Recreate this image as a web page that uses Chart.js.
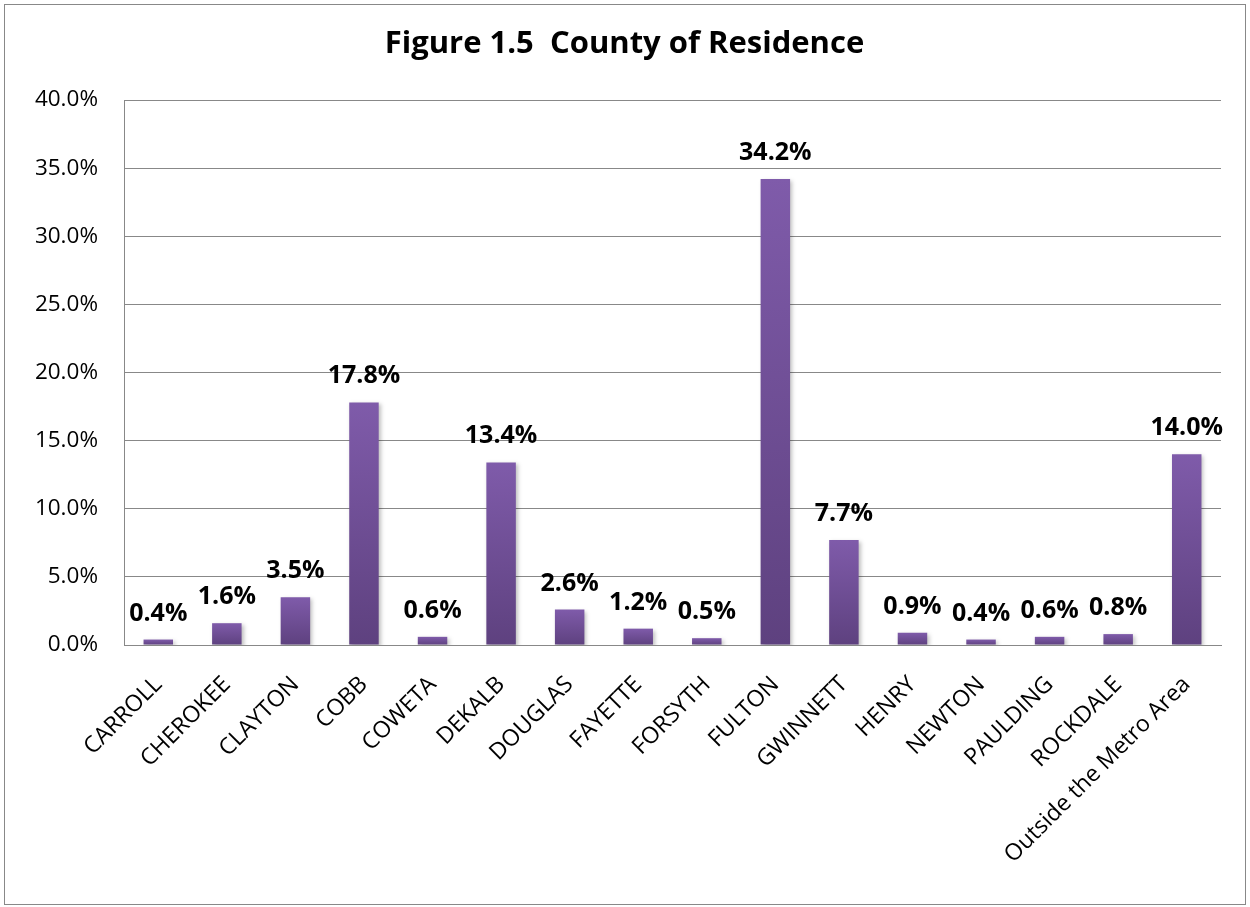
<!DOCTYPE html>
<html>
<head>
<meta charset="utf-8">
<script src="https://cdn.jsdelivr.net/npm/chart.js@4"></script>
<style>
  body { margin: 0; background: #fff; }
  #wrap { width: 1250px; height: 907px; }
</style>
</head>
<body>
<div id="wrap"><canvas id="countyChart" width="1250" height="907"></canvas></div>
<script>
// data
const counties = ['CARROLL', 'CHEROKEE', 'CLAYTON', 'COBB', 'COWETA', 'DEKALB', 'DOUGLAS', 'FAYETTE',
  'FORSYTH', 'FULTON', 'GWINNETT', 'HENRY', 'NEWTON', 'PAULDING', 'ROCKDALE', 'Outside the Metro Area'];
const percents = [0.4, 1.6, 3.5, 17.8, 0.6, 13.4, 2.6, 1.2, 0.5, 34.2, 7.7, 0.9, 0.4, 0.6, 0.8, 14.0];
const yTicks = [0, 5, 10, 15, 20, 25, 30, 35, 40];

const FONT = '"Open Sans", sans-serif';

// purple gradient, lighter at the top
function barFill(context) {
    const chart = context.chart;
    if (!chart.chartArea) return '#6E4E96';
    const y = chart.scales.y;
    const g = chart.ctx.createLinearGradient(0, y.getPixelForValue(context.raw || 0), 0, y.getPixelForValue(0));
    g.addColorStop(0, '#7F5BAA');
    g.addColorStop(1, '#5E417F');
    return g;
}

// value labels above each bar + outer frame
const extras = {
    id: 'extras',
    beforeDatasetsDraw(chart) {
        const ctx = chart.ctx;
        ctx.save();
        ctx.shadowColor = 'rgba(0,0,0,0.25)';
        ctx.shadowBlur = 4;
        ctx.shadowOffsetX = 2;
        ctx.shadowOffsetY = 2;
    },
    afterDatasetsDraw(chart) {
        const ctx = chart.ctx;
        ctx.restore();
        ctx.save();
        ctx.font = 'bold 25px ' + FONT;
        ctx.fillStyle = '#000';
        ctx.textAlign = 'center';
        ctx.textBaseline = 'alphabetic';
        chart.getDatasetMeta(0).data.forEach((bar, i) => {
            ctx.fillText(percents[i].toFixed(1) + '%', bar.x, bar.y - 19);
        });
        ctx.restore();
    },
    afterDraw(chart) {
        const ctx = chart.ctx;
        ctx.save();
        ctx.strokeStyle = '#888';
        ctx.lineWidth = 1;
        ctx.strokeRect(4.5, 4.5, 1241, 900);
        ctx.restore();
    }
};

new Chart(document.getElementById('countyChart'), {
    type: 'bar',
    data: {
        labels: counties,
        datasets: [{
            data: percents,
            backgroundColor: barFill,
            borderWidth: 0,
            categoryPercentage: 1,
            barPercentage: 0.43
        }]
    },
    options: {
        responsive: false,
        animation: false,
        layout: { padding: { top: 0, left: 28, right: 29, bottom: 0 } },
        plugins: {
            legend: { display: false },
            tooltip: { enabled: false },
            title: {
                display: true,
                text: 'Figure 1.5  County of Residence',
                color: '#000',
                font: { family: FONT, size: 31, weight: 'bold', lineHeight: 1.2 },
                padding: { top: 26, bottom: 36.8 }
            }
        },
        scales: {
            x: {
                grid: { display: false, drawTicks: false },
                border: { color: '#888', width: 1 },
                ticks: {
                    color: '#000',
                    font: { family: FONT, size: 23 },
                    minRotation: 45,
                    maxRotation: 45,
                    autoSkip: false,
                    padding: 26
                },
                afterFit(scale) { scale.height = 907 - 645; }
            },
            y: {
                min: 0,
                max: 40,
                afterBuildTicks(scale) { scale.ticks = yTicks.map(v => ({ value: v })); },
                grid: { color: '#888', lineWidth: 1, drawTicks: false },
                border: { color: '#888', width: 1 },
                ticks: {
                    color: '#000',
                    font: { family: FONT, size: 22.5 },
                    padding: 26,
                    callback: v => v.toFixed(1) + '%'
                },
                afterFit(scale) { scale.width = 124 - 28; }
            }
        }
    },
    plugins: [extras]
});
</script>
</body>
</html>
